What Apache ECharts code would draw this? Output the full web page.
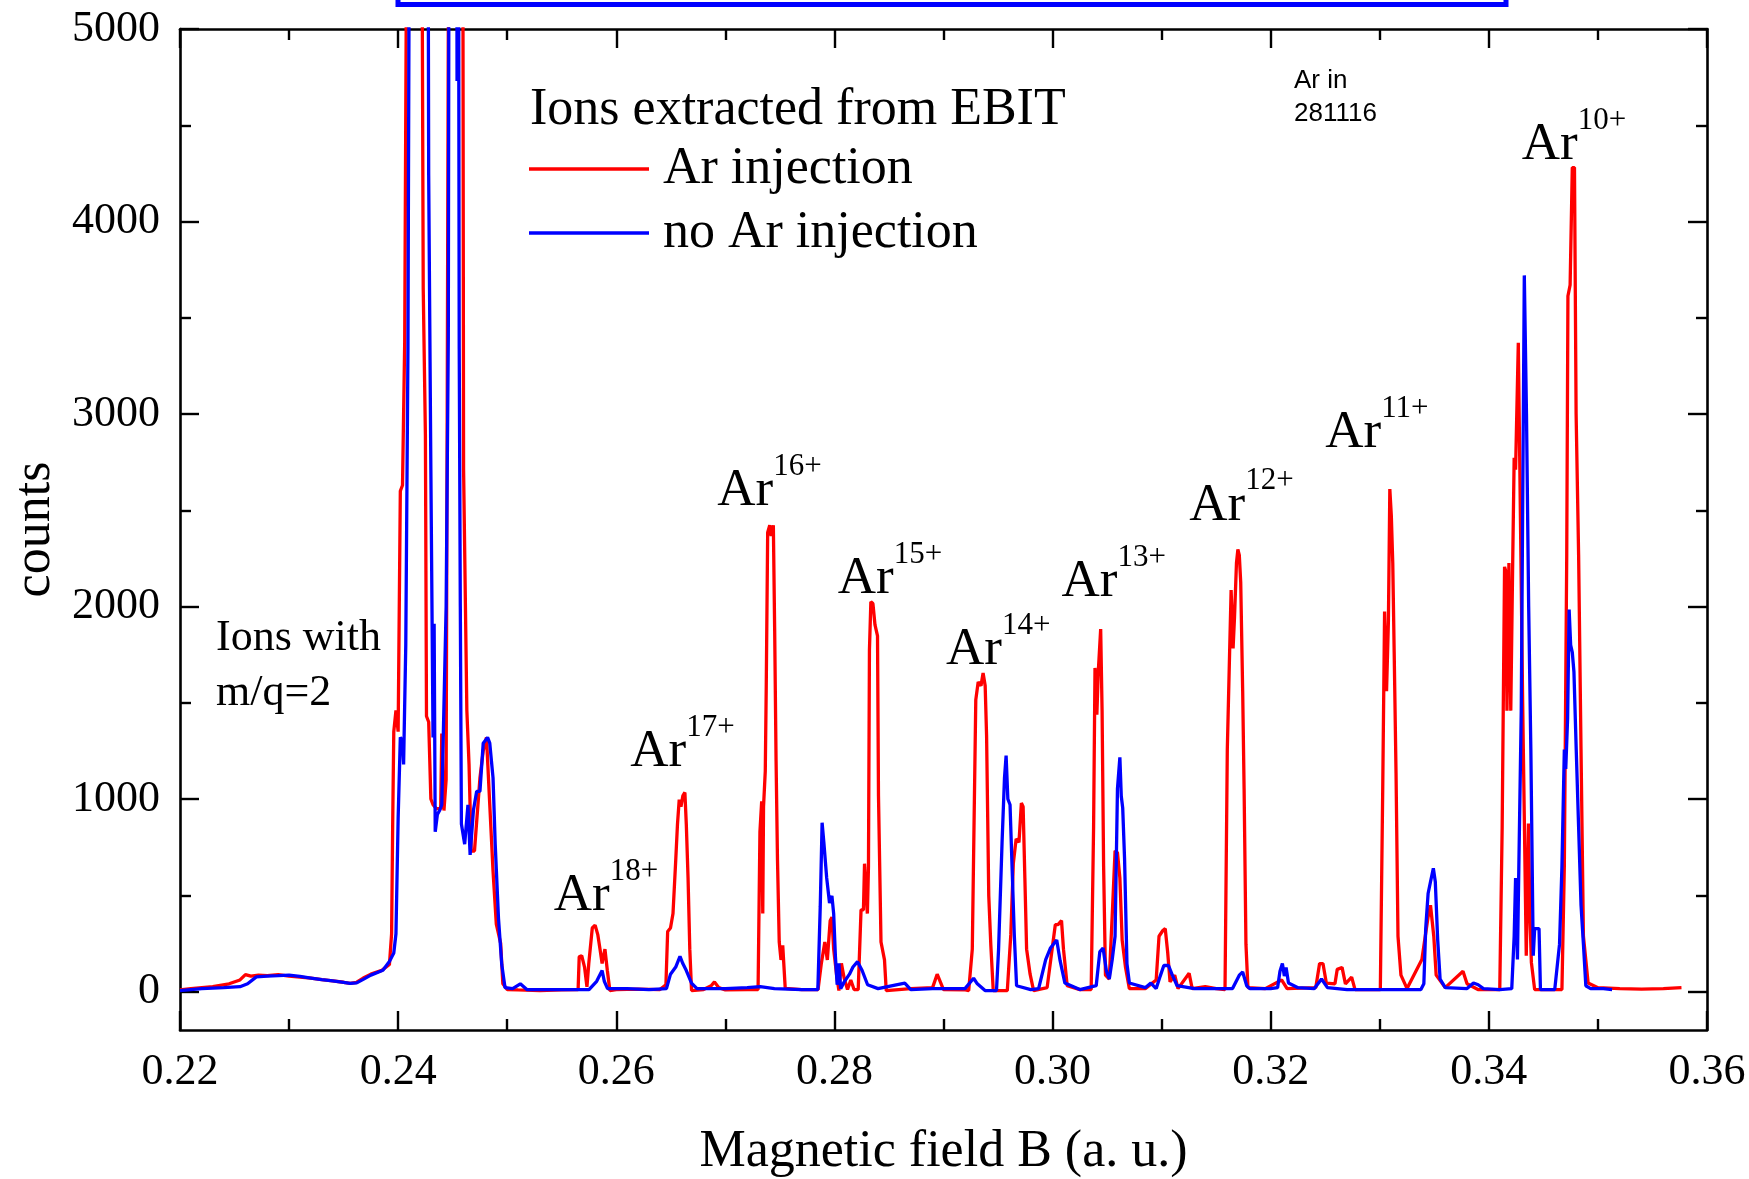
<!DOCTYPE html>
<html><head><meta charset="utf-8">
<script src="https://cdn.jsdelivr.net/npm/echarts@6/dist/echarts.min.js"></script>
<style>html,body{margin:0;padding:0;background:#fff}#c{width:1749px;height:1179px}</style>
</head><body><div id="c"></div>
<script>
const xMajorTicks = [0.22, 0.24, 0.26, 0.28, 0.30, 0.32, 0.34, 0.36];
const xMinorTicks = [0.23, 0.25, 0.27, 0.29, 0.31, 0.33, 0.35];
const yMajorTicks = [0, 1000, 2000, 3000, 4000, 5000];
const yMinorTicks = [500, 1500, 2500, 3500, 4500];

const arInjection = [
[0.2200,8],[0.2210,15],[0.2230,25],[0.2245,40],[0.2255,60],[0.2260,88],[0.2265,80],[0.2272,85],[0.2280,82],[0.2290,88],
[0.2300,80],[0.2310,75],[0.2320,70],[0.2330,62],[0.2340,55],[0.2350,48],[0.2356,42],[0.2362,48],[0.2368,70],[0.2375,90],
[0.2385,110],[0.2392,140],[0.2394,300],[0.2395,870],[0.2396,1350],[0.2398,1460],[0.2400,1350],[0.2402,2600],[0.2404,2630],[0.2406,3370],
[0.2409,7000],[0.2421,7000],[0.2423,3650],[0.2425,2890],[0.2426,1430],[0.2428,1400],[0.2430,1000],[0.2432,970],[0.2435,950],[0.2439,950],
[0.2440,1340],[0.2442,940],[0.2444,1100],[0.2447,7000],[0.2459,7000],[0.2460,2710],[0.2463,1460],[0.2465,1180],[0.2467,730],[0.2470,730],
[0.2475,1110],[0.2478,1250],[0.2481,1320],[0.2484,970],[0.2487,625],[0.2490,350],[0.2494,250],[0.2496,40],[0.2500,10],[0.2510,8],
[0.2530,5],[0.2550,8],[0.2565,10],[0.2566,180],[0.25683,186],[0.25709,127],[0.25731,24],[0.25748,146],[0.25780,330],[0.25806,345],
[0.25831,294],[0.25851,220],[0.25870,146],[0.25896,220],[0.25918,109],[0.25941,5],[0.2600,10],[0.2620,12],[0.2640,10],[0.26455,35],
[0.26471,312],[0.26497,330],[0.26520,405],[0.26545,682],[0.26561,868],[0.26577,997],[0.26593,960],[0.26610,1016],[0.26629,1034],[0.26642,868],
[0.26658,590],[0.26674,220],[0.26690,5],[0.2680,10],[0.2687,30],[0.2690,50],[0.2694,20],[0.2700,8],[0.2720,10],[0.2730,10],
[0.27317,830],[0.27333,988],[0.27343,405],[0.27350,960],[0.27366,1145],[0.27375,1589],[0.27388,2385],[0.27407,2422],[0.27420,2366],[0.27440,2422],
[0.27452,1885],[0.27465,1200],[0.27478,683],[0.27494,257],[0.27510,164],[0.27526,240],[0.27549,16],[0.2770,10],[0.2785,10],[0.27880,146],
[0.27912,257],[0.27935,164],[0.27961,368],[0.27977,386],[0.27993,220],[0.28019,90],[0.28041,5],[0.28064,146],[0.28089,70],[0.2812,10],
[0.2815,60],[0.2818,10],[0.28218,10],[0.28244,424],[0.28266,424],[0.28276,664],[0.28302,405],[0.28312,646],[0.28321,1774],[0.28334,2024],
[0.28353,2015],[0.28372,1904],[0.28395,1848],[0.28404,1016],[0.28427,257],[0.28459,164],[0.28475,5],[0.2870,15],[0.2890,20],[0.28942,90],
[0.2900,10],[0.2920,8],[0.29231,5],[0.29264,220],[0.29296,1515],[0.29318,1608],[0.29344,1589],[0.29363,1654],[0.29382,1589],[0.29395,1330],
[0.29415,497],[0.29434,240],[0.29456,5],[0.29585,5],[0.29617,294],[0.29640,664],[0.29666,793],[0.29692,775],[0.29714,979],[0.29730,960],
[0.29746,590],[0.29762,220],[0.29794,90],[0.29826,5],[0.2995,20],[0.30025,347],[0.30050,347],[0.30082,368],[0.30100,220],[0.30134,30],
[0.3025,10],[0.30354,10],[0.30376,852],[0.30389,1681],[0.30406,1438],[0.30419,1661],[0.30441,1883],[0.30454,1459],[0.30468,650],[0.30485,85],
[0.30520,65],[0.30551,448],[0.30573,731],[0.30595,721],[0.30617,590],[0.30638,267],[0.30669,125],[0.30704,15],[0.3085,15],[0.3095,60],
[0.30976,287],[0.31011,317],[0.31033,327],[0.31055,206],[0.31077,50],[0.31120,85],[0.3115,15],[0.31252,95],[0.3128,15],[0.3140,25],
[0.3150,15],[0.31581,10],[0.31602,1256],[0.31624,1782],[0.31637,2085],[0.31655,1782],[0.31668,1943],[0.31686,2226],[0.31699,2297],[0.31712,2267],
[0.31725,2125],[0.31743,1560],[0.31756,1054],[0.31773,246],[0.31791,20],[0.3195,15],[0.3210,60],[0.3215,15],[0.32413,20],[0.32448,145],
[0.32479,145],[0.32510,44],[0.32589,40],[0.32610,115],[0.32654,125],[0.32685,40],[0.32742,75],[0.32773,10],[0.3290,10],[0.33005,10],
[0.33027,1054],[0.33044,1974],[0.33062,1560],[0.33079,1923],[0.33092,2610],[0.33106,2469],[0.33119,2226],[0.33132,1762],[0.33149,1135],[0.33167,287],
[0.33194,85],[0.3325,15],[0.33386,166],[0.33443,388],[0.33465,448],[0.33495,287],[0.33517,85],[0.3360,20],[0.33763,105],[0.3380,40],
[0.3390,10],[0.34100,10],[0.34122,852],[0.34144,2206],[0.34157,2180],[0.34166,1459],[0.34184,2226],[0.34201,1459],[0.34219,2246],[0.34232,2772],
[0.34245,2711],[0.34270,3370],[0.34310,1500],[0.34343,186],[0.34363,873],[0.34376,400],[0.34390,150],[0.34420,10],[0.34670,10],[0.34692,650],
[0.34714,2267],[0.34725,3613],[0.34745,3670],[0.34765,4280],[0.34785,4280],[0.34800,3000],[0.34823,2267],[0.34845,1257],[0.34867,287],[0.34910,44],
[0.3500,20],[0.3520,15],[0.3540,12],[0.3560,15],[0.35766,20]
];

const noArInjection = [
[0.2200,5],[0.2220,15],[0.2240,20],[0.2255,25],[0.2262,40],[0.2270,76],[0.2280,80],[0.2290,82],[0.2300,85],[0.2310,78],
[0.2320,70],[0.2330,62],[0.2340,55],[0.2350,47],[0.2356,42],[0.2362,45],[0.2368,63],[0.2375,85],[0.2386,110],[0.2392,156],
[0.2396,200],[0.2398,300],[0.2400,900],[0.2402,1320],[0.2404,1300],[0.2405,1180],[0.2407,1800],[0.2409,3340],[0.2411,7000],[0.2427,7000],
[0.2428,4240],[0.2430,2710],[0.2432,1320],[0.2433,1910],[0.2434,830],[0.2436,920],[0.2438,940],[0.2440,970],[0.2444,2000],[0.2446,3400],
[0.2447,7000],[0.24535,7000],[0.2454,4730],[0.2455,7000],[0.2456,3340],[0.2457,2000],[0.2458,870],[0.2461,765],[0.2464,970],[0.2466,710],
[0.2469,940],[0.2472,1040],[0.2475,1040],[0.2478,1290],[0.2482,1320],[0.2484,1290],[0.2487,1110],[0.2489,765],[0.2492,380],[0.2495,140],
[0.2498,20],[0.2505,15],[0.2512,40],[0.2518,10],[0.2540,10],[0.2560,10],[0.2575,10],[0.2582,53],[0.2587,109],[0.2589,53],
[0.2592,15],[0.2610,15],[0.2630,10],[0.2646,15],[0.26497,90],[0.26545,127],[0.26584,183],[0.26610,145],[0.26642,109],[0.26690,43],
[0.2674,15],[0.2700,15],[0.2720,20],[0.2732,25],[0.2745,15],[0.2770,10],[0.27848,10],[0.27870,442],[0.27887,877],[0.27903,775],
[0.27929,590],[0.27955,460],[0.27977,497],[0.27993,405],[0.28009,183],[0.28025,35],[0.28041,146],[0.28057,15],[0.28090,50],[0.28138,90],
[0.28170,127],[0.28212,155],[0.28254,109],[0.28304,35],[0.2840,15],[0.28566,35],[0.28645,43],[0.2870,10],[0.2890,15],[0.2910,15],
[0.29197,15],[0.29276,69],[0.29310,40],[0.29381,5],[0.29486,5],[0.29505,220],[0.29537,775],[0.29559,1108],[0.29574,1226],[0.29590,1000],
[0.29610,970],[0.29627,960],[0.29649,294],[0.29670,30],[0.2980,10],[0.29872,15],[0.29937,166],[0.29981,226],[0.30038,267],[0.30069,160],
[0.30113,44],[0.3025,10],[0.3040,30],[0.30433,206],[0.30463,226],[0.30494,105],[0.30520,65],[0.30547,166],[0.30573,287],[0.30595,1054],
[0.30617,1216],[0.30630,1014],[0.30643,954],[0.30660,691],[0.30682,145],[0.30704,44],[0.3085,20],[0.30901,44],[0.3095,15],[0.30987,80],
[0.31020,135],[0.31063,135],[0.31098,85],[0.31142,30],[0.3130,15],[0.3150,15],[0.31650,15],[0.31712,85],[0.31743,101],[0.31780,30],
[0.31808,15],[0.3200,15],[0.32063,20],[0.32085,105],[0.32107,145],[0.32125,80],[0.32141,125],[0.32163,44],[0.3225,20],[0.3240,15],
[0.32466,65],[0.3252,20],[0.3270,10],[0.3300,10],[0.3320,10],[0.33377,10],[0.33404,40],[0.33421,327],[0.33443,509],[0.33465,570],
[0.33491,640],[0.33509,570],[0.33531,267],[0.33553,65],[0.3360,20],[0.3380,15],[0.33859,44],[0.33902,35],[0.3395,15],[0.3410,10],
[0.34210,15],[0.34232,287],[0.34245,590],[0.34262,166],[0.34275,650],[0.34297,1459],[0.34325,3720],[0.34345,3000],[0.34365,2000],[0.34385,1257],
[0.34407,186],[0.34420,327],[0.34460,327],[0.34473,10],[0.34604,10],[0.34648,246],[0.34670,650],[0.34692,1257],[0.34705,1156],[0.34722,1418],
[0.34736,1984],[0.34750,1800],[0.34765,1762],[0.34780,1661],[0.34801,1257],[0.34823,852],[0.34845,448],[0.34867,246],[0.34889,30],[0.34933,15],
[0.3505,15],[0.3513,10]
];

const peakCharges = ['18+','17+','16+','15+','14+','13+','12+','11+','10+'];
const peakLabelB = [0.25426,0.26127,0.26925,0.28031,0.29022,0.30082,0.31252,0.32500,0.34301];
const peakLabelCounts = [433,1182,2537,2079,1710,2066,2461,2838,4336];

const SERIF = '"Liberation Serif","Times New Roman",serif';
const SANS = '"Liberation Sans",Arial,sans-serif';
const BLACK = '#000';

const chart = echarts.init(document.getElementById('c'), null, {renderer: 'canvas'});

function xAxisDef(pos, ticks, len, showLine, labels, extra) {
  return Object.assign({
    type: 'value', position: pos, min: 0.22, max: 0.36,
    axisLine: {show: showLine, onZero: false, lineStyle: {color: BLACK, width: 2.6}},
    axisTick: {show: true, inside: true, length: len, customValues: ticks, lineStyle: {color: BLACK, width: 2.4}},
    axisLabel: labels ? {show: true, customValues: ticks, formatter: v => v.toFixed(2), margin: 20,
      fontFamily: SERIF, fontSize: 44, color: BLACK, hideOverlap: false} : {show: false},
    splitLine: {show: false}
  }, extra || {});
}
function yAxisDef(pos, ticks, len, showLine, labels, extra) {
  return Object.assign({
    type: 'value', position: pos, min: -200, max: 5000,
    axisLine: {show: showLine, onZero: false, lineStyle: {color: BLACK, width: 2.6}},
    axisTick: {show: true, inside: true, length: len, customValues: ticks, lineStyle: {color: BLACK, width: 2.4}},
    axisLabel: labels ? {show: true, customValues: ticks, formatter: v => String(Math.round(v)), margin: 20,
      fontFamily: SERIF, fontSize: 44, color: BLACK, hideOverlap: false} : {show: false},
    splitLine: {show: false}
  }, extra || {});
}

chart.setOption({
  animation: false,
  backgroundColor: '#fff',
  grid: {left: 180, right: 42, top: 29, bottom: 149, containLabel: false, outerBoundsMode: 'none'},
  xAxis: [
    xAxisDef('bottom', xMajorTicks, 19, true, true, {
      name: 'Magnetic field B (a. u.)', nameLocation: 'middle', nameGap: 96,
      nameTextStyle: {fontFamily: SERIF, fontSize: 52, color: BLACK}}),
    xAxisDef('bottom', xMinorTicks, 11, false, false),
    xAxisDef('top', xMajorTicks, 19, true, false),
    xAxisDef('top', xMinorTicks, 11, false, false)
  ],
  yAxis: [
    yAxisDef('left', yMajorTicks, 19, true, true, {
      name: 'counts', nameLocation: 'middle', nameGap: 116, nameRotate: 90,
      nameTextStyle: {fontFamily: SERIF, fontSize: 52, color: BLACK}}),
    yAxisDef('left', yMinorTicks, 11, false, false),
    yAxisDef('right', yMajorTicks, 19, true, false),
    yAxisDef('right', yMinorTicks, 11, false, false)
  ],
  legend: {
    show: true, orient: 'vertical', left: 529, top: 143, itemWidth: 120, itemHeight: 3.3, itemGap: 12,
    padding: 0, icon: 'rect',
    textStyle: {fontFamily: SERIF, fontSize: 52, color: BLACK, padding: [11, 0, 0, 9]},
    data: ['Ar injection', 'no Ar injection']
  },
  series: [
    {name: 'Ar injection', type: 'line', data: arInjection, xAxisIndex: 0, yAxisIndex: 0,
     symbol: 'none', showSymbol: false, clip: true, lineStyle: {color: '#ff0000', width: 3.3}, itemStyle: {color: '#ff0000'}, z: 2},
    {name: 'no Ar injection', type: 'line', data: noArInjection, xAxisIndex: 0, yAxisIndex: 0,
     symbol: 'none', showSymbol: false, clip: true, lineStyle: {color: '#0000ff', width: 3.3}, itemStyle: {color: '#0000ff'}, z: 3}
  ]
});

const graphics = [];
function txt(str, x, y, size, family, align) {
  return {type: 'text', x: x, y: y, silent: true, z: 10,
    style: {text: str, font: size + 'px ' + family, fontSize: size, fontFamily: family, fill: BLACK,
      textAlign: align || 'left', align: align || 'left', textVerticalAlign: 'middle', verticalAlign: 'middle'}};
}
// blue box cut at top of the figure
graphics.push({type: 'rect', shape: {x: 398, y: -20, width: 1108, height: 24.5}, silent: true,
  style: {fill: 'none', stroke: '#0000ff', lineWidth: 5}});
graphics.push(txt('Ions extracted from EBIT', 530, 110.5, 52, SERIF));
graphics.push(txt('Ions with', 216, 638.5, 44, SERIF));
graphics.push(txt('m/q=2', 216, 693, 44, SERIF));
graphics.push(txt('Ar in', 1294, 81, 26, SANS));
graphics.push(txt('281116', 1294, 114, 26, SANS));
for (let i = 0; i < peakCharges.length; i++) {
  const p = chart.convertToPixel({xAxisIndex: 0, yAxisIndex: 0}, [peakLabelB[i], peakLabelCounts[i]]);
  graphics.push(txt('Ar', p[0], p[1] - 12, 53, SERIF));
  graphics.push(txt(peakCharges[i], p[0] + 56, p[1] - 36.4, 31, SERIF));
}
chart.setOption({graphic: graphics});
</script>
</body></html>
